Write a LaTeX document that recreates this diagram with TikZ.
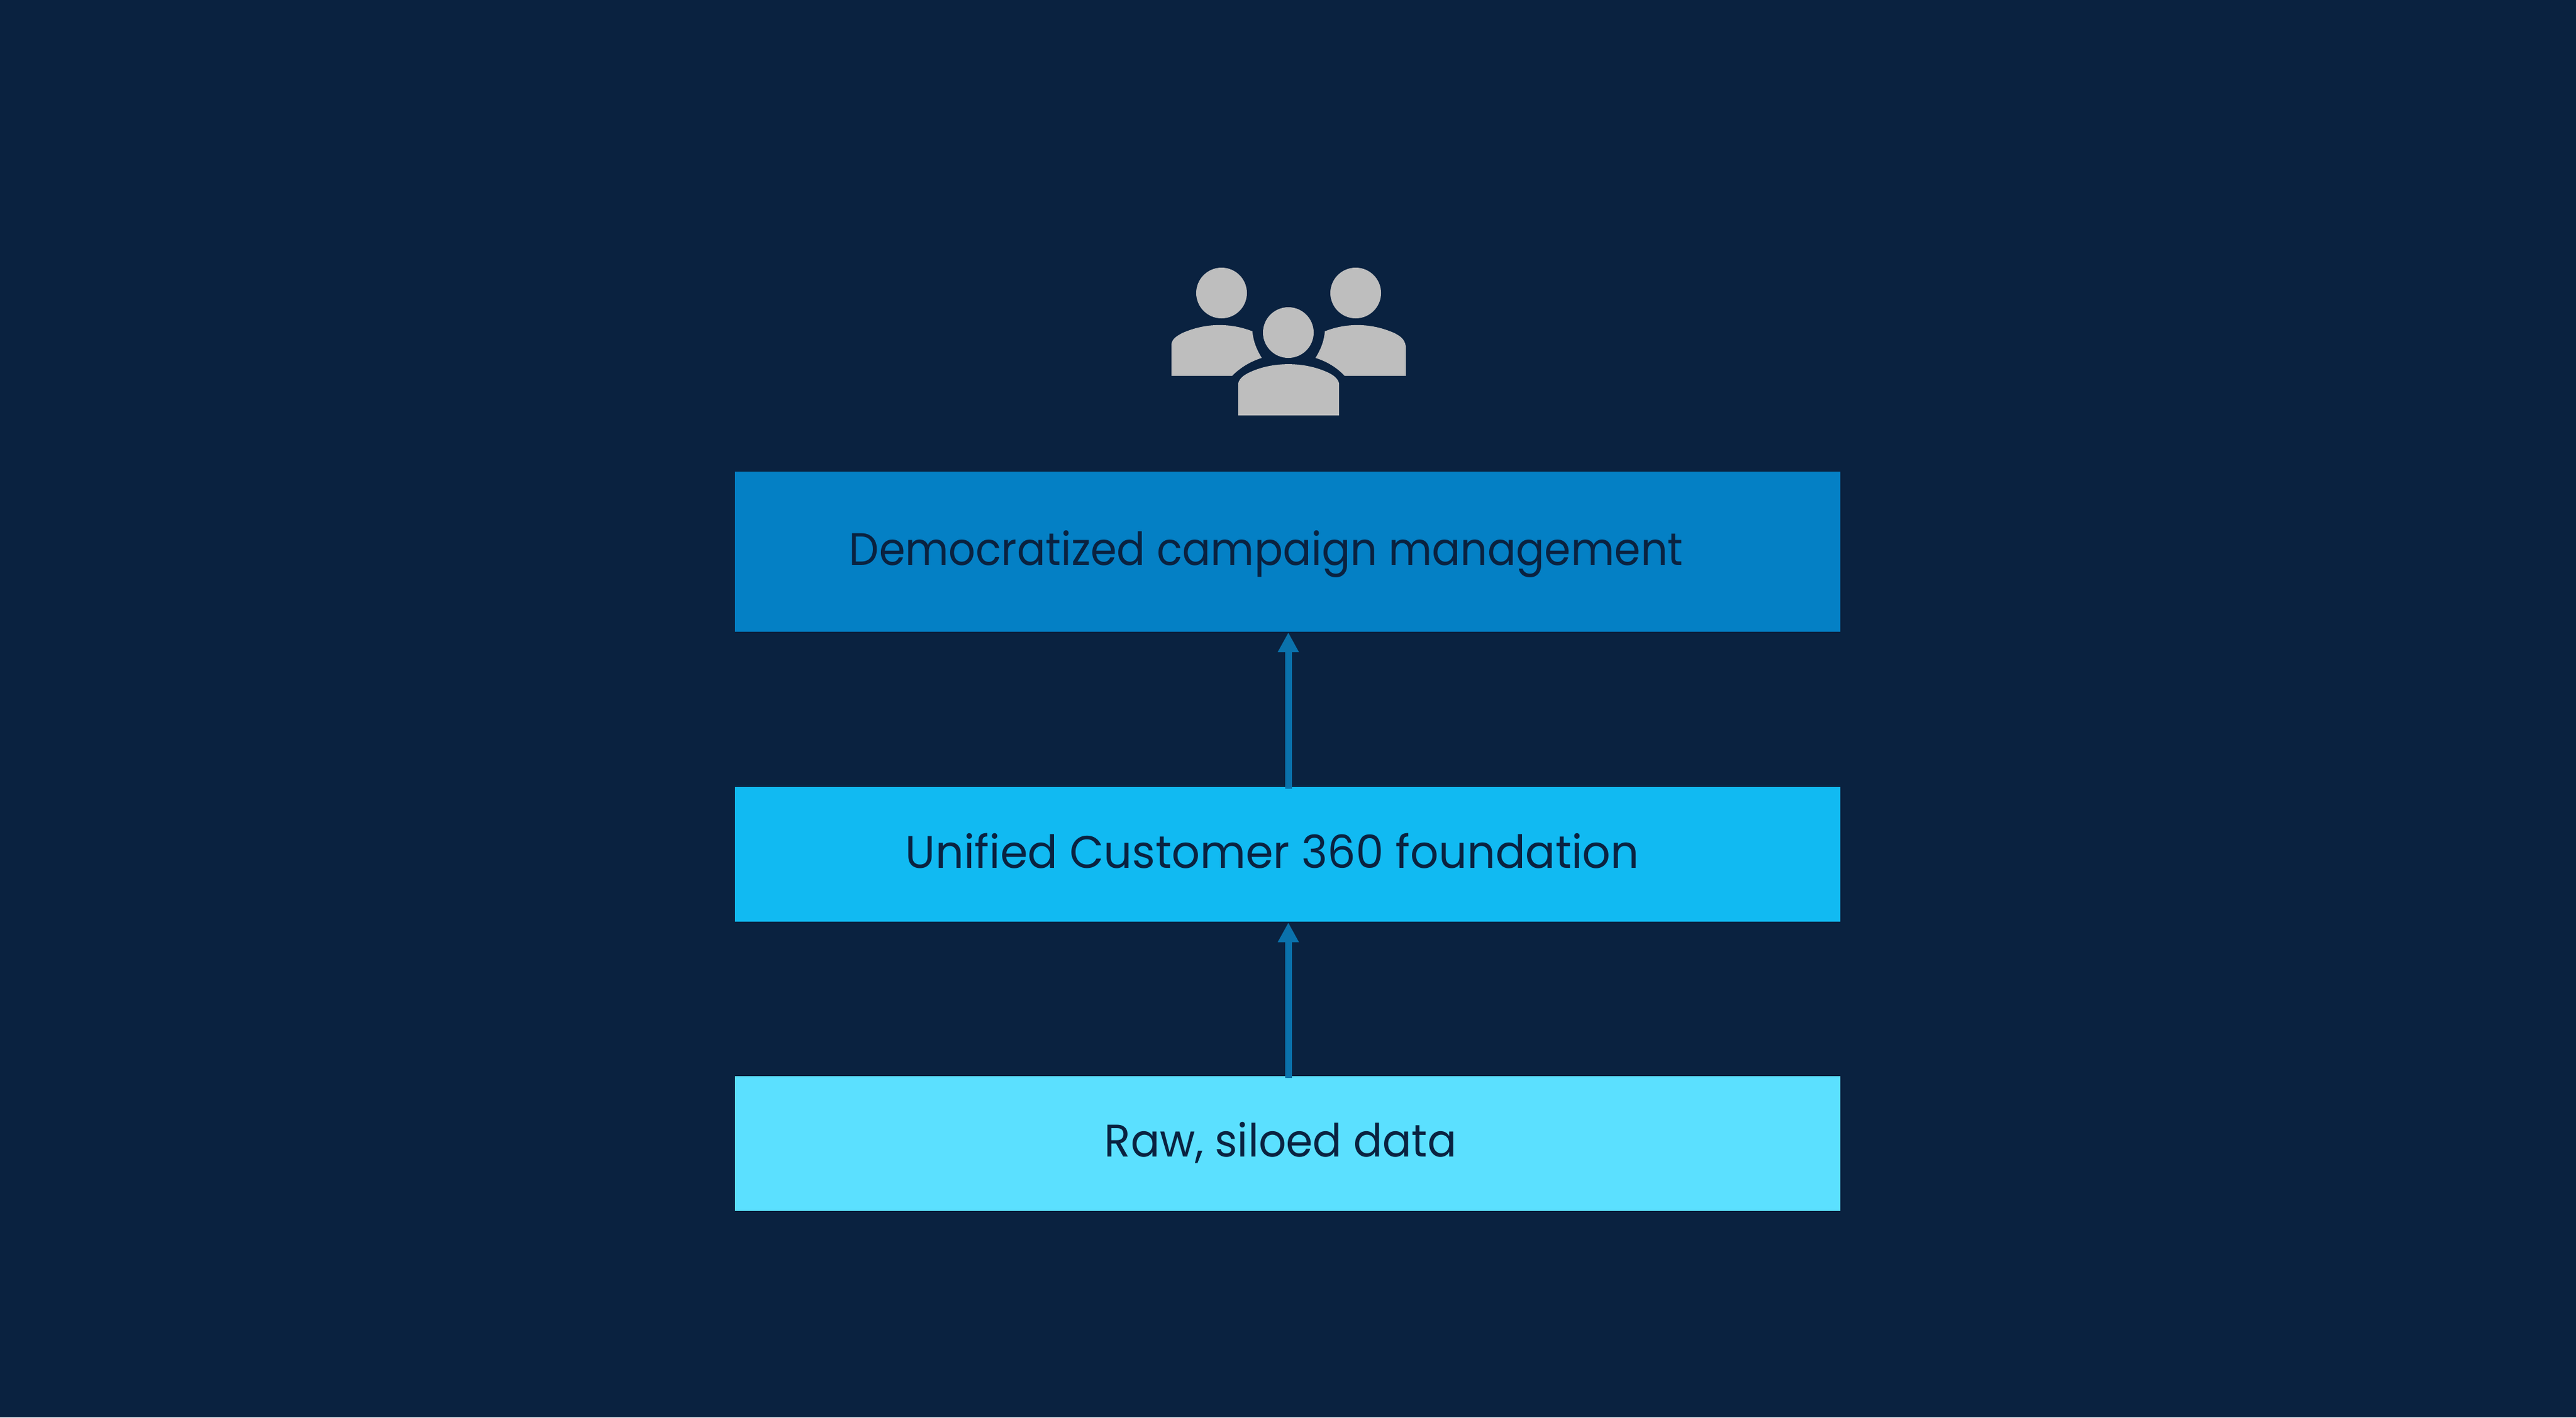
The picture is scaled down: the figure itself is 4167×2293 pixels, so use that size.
\documentclass[tikz,border=0pt]{standalone}
\usepackage{fontspec}
\setmainfont[FakeStretch=0.925]{Poppins}
\usetikzlibrary{arrows.meta,positioning}
\definecolor{bgnavy}{HTML}{0A2240}
\definecolor{inktext}{HTML}{0A2240}
\definecolor{iconfill}{HTML}{BEBEBE}
\definecolor{arrowblue}{HTML}{0A72AC}
\definecolor{topblue}{HTML}{0480C5}
\definecolor{midblue}{HTML}{11BAF2}
\definecolor{lowblue}{HTML}{5BE0FF}
\tikzset{
  layer/.style={minimum width=17.87cm,inner sep=0pt,outer sep=0pt},
  caption/.style={text=inktext,font=\fontsize{21}{25}\selectfont,inner sep=0pt,anchor=base west},
  lift/.style={draw=arrowblue,line width=0.11cm,-{Triangle[length=0.32cm,width=0.32cm]}},
  usericon/.style={fill=iconfill}
}
\begin{document}
\begin{tikzpicture}[x=0.01cm,y=-0.01cm]
  \fill[bgnavy] (0,0) rectangle (4167,2293);
  \useasboundingbox (0,0) rectangle (4167,2293);
  % layers
  \node[layer,fill=topblue,minimum height=2.59cm] (campaign) at (2083,892.5) {};
  \node[layer,fill=midblue,minimum height=2.18cm] (unified) [below=2.51cm of campaign] {};
  \node[layer,fill=lowblue,minimum height=2.18cm] (raw) [below=2.49cm of unified] {};
  \node[caption] (campaigntext) at (1373,914) {Democratized campaign management};
  \node[caption] (unifiedtext) at (1464,1404) {\addfontfeature{FakeStretch=0.972}Unified Customer 360 foundation};
  \node[caption] (rawtext) at (1786,1871) {\addfontfeature{FakeStretch=0.943}Raw, siloed data};
  % arrows
  \draw[lift] ([shift={(0.01cm,-0.03cm)}]unified.north) -- ([shift={(0.01cm,-0.01cm)}]campaign.south);
  \draw[lift] ([shift={(0.01cm,-0.03cm)}]raw.north) -- ([shift={(0.01cm,-0.01cm)}]unified.south);
  % people
  \fill[usericon] (1976,474) circle (41) (2193,474) circle (41) (2084,538) circle (41);
  \fill[usericon] (1895,608) -- (1895,557) .. controls (1896,548) and (1903,544) .. (1912,539)
    .. controls (1950,522) and (1990,522) .. (2026,536)
    .. controls (2027,552) and (2033,566) .. (2041,579)
    .. controls (2022,585) and (2006,595) .. (1993,608) -- cycle;
  \fill[usericon] (2274,608) -- (2274,560) .. controls (2272,548) and (2265,544) .. (2256,539)
    .. controls (2218,522) and (2178,522) .. (2143,536)
    .. controls (2142,552) and (2136,566) .. (2128,579)
    .. controls (2147,585) and (2163,595) .. (2175,608) -- cycle;
  \fill[usericon] (2003,672) -- (2003,620) .. controls (2005,612) and (2012,607) .. (2020,603)
    .. controls (2058,584.5) and (2110,584.5) .. (2149,603)
    .. controls (2157,607) and (2164,612) .. (2166,620) -- (2166,672) -- cycle;
\end{tikzpicture}
\end{document}
